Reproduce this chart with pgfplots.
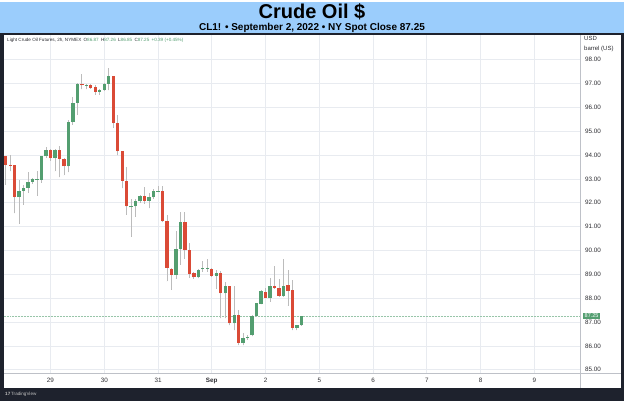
\documentclass[border=0pt]{standalone}
\usepackage{fontspec}
\setmainfont{Liberation Sans}
\usepackage{pgfplots}
\pgfplotsset{compat=1.18}
\usepackage{pgfplotstable}
\definecolor{hdr}{RGB}{155,205,252}
\definecolor{framec}{RGB}{30,34,45}
\definecolor{gridc}{RGB}{232,235,240}
\definecolor{sepc}{RGB}{190,193,200}
\definecolor{upc}{RGB}{83,158,112}
\definecolor{dnc}{RGB}{218,74,54}
\definecolor{wick}{RGB}{188,188,188}
\definecolor{txt}{RGB}{45,45,50}

\pgfplotstableread{
i o h l c
0 93.95 93.97 92.76 93.59
1 93.59 94.02 93.32 93.55
2 93.57 93.57 91.55 92.24
10 94.23 94.27 93.77 93.87
12 94.22 94.40 93.08 93.84
13 93.84 93.88 93.15 93.53
17 96.96 97.38 96.75 96.92
19 96.92 97.00 96.78 96.82
20 96.85 96.92 96.53 96.65
24 97.31 97.31 95.14 95.34
25 95.34 95.69 93.99 94.16
26 94.16 94.18 92.60 92.93
27 92.90 93.49 91.50 91.85
31 92.30 92.65 91.95 92.09
35 92.51 92.69 91.19 91.22
36 91.22 91.47 88.70 89.27
37 89.24 89.25 88.35 88.99
40 91.20 91.61 89.66 90.00
41 90.00 90.32 88.85 89.03
42 89.06 89.09 88.82 88.87
46 89.23 89.27 88.90 88.95
48 89.05 89.13 87.15 88.20
50 88.50 88.52 86.87 86.94
52 87.29 87.52 86.03 86.13
58 88.27 88.43 87.99 88.01
60 88.52 89.36 88.40 88.43
61 88.43 88.80 88.06 88.10
63 88.55 89.17 87.68 88.30
64 88.34 88.76 86.66 86.77
}\down

\pgfplotstableread{
i o h l c
3 92.24 92.97 91.11 92.51
4 92.51 92.75 91.92 92.62
5 92.62 93.28 92.41 92.89
6 92.89 93.05 92.80 92.99
7 92.97 93.32 92.30 93.00
8 92.97 93.98 92.83 93.94
9 93.94 94.33 93.89 94.23
11 93.87 94.24 93.32 94.23
14 93.53 95.45 93.29 95.38
15 95.38 96.44 95.28 96.20
16 96.20 97.03 95.70 96.96
18 96.92 96.99 96.75 96.95
21 96.66 96.78 96.53 96.73
22 96.73 97.03 96.70 96.99
23 96.99 97.66 96.72 97.31
28 91.81 92.17 90.57 91.85
29 91.85 92.17 91.42 92.06
30 92.06 92.34 92.00 92.30
32 92.09 92.41 91.78 92.23
33 92.23 92.58 92.16 92.48
34 92.48 92.69 92.45 92.51
38 88.99 90.80 88.82 90.08
39 90.08 91.61 89.40 91.20
43 88.87 89.24 88.83 89.20
44 89.22 89.55 89.10 89.26
45 89.24 89.64 89.10 89.27
47 88.95 89.18 88.40 89.05
49 88.20 88.68 87.15 88.52
51 86.94 88.52 86.66 87.31
53 86.13 86.55 86.02 86.31
54 86.31 86.45 86.25 86.39
55 86.45 87.31 86.40 87.26
56 87.26 87.80 87.22 87.78
57 87.75 88.33 87.75 88.31
59 88.00 88.83 87.84 88.52
62 88.10 89.64 88.06 88.52
65 86.77 86.87 86.66 86.87
66 86.87 87.26 86.85 87.25
}\up

\pgfplotsset{candle/.style={only marks, mark=*, mark size=0pt, mark options={draw=none, fill=none}}}

\begin{document}
\begin{tikzpicture}[x=1pt,y=1pt]
% header and frame
\fill[hdr] (0,368) rectangle (624,399);
\fill[framec] (0,0) rectangle (624,368);
\fill[white] (4,13) rectangle (621,366);
\node[anchor=base, font=\fontsize{20}{22}\selectfont\bfseries] at (312,382.5) {Crude Oil \$};
\node[anchor=base, font=\fontsize{10}{11}\selectfont\bfseries] at (312,370.5) {CL1! • September 2, 2022 • NY Spot Close 87.25};

\begin{axis}[
  at={(4pt,27pt)}, anchor=south west, scale only axis,
  width=576pt, height=339pt,
  xmin=-0.38, xmax=128.2, ymin=84.834, ymax=99.048,
  axis line style={draw=none}, tick style={draw=none},
  xtick={10,22,34,46,58,70,82,94,106,118},
  xticklabels={29,30,31,\textbf{Sep},2,5,6,7,8,9},
  ytick={85,86,...,98}, yticklabel pos=right,
  grid=major, major grid style={draw=gridc, line width=0.6pt},
  ticklabel style={font=\fontsize{6.3}{7}\selectfont, text=txt, inner sep=0pt},
  xticklabel style={anchor=center, yshift=-7pt},
  yticklabel style={anchor=west, xshift=5pt, /pgf/number format/.cd, fixed, fixed zerofill, precision=2},
  /pgf/number format/assume math mode=true,
  clip=false]
% last price line
\addplot[upc!60, densely dotted, line width=0.5pt] coordinates {(-0.38,87.25) (128.2,87.25)};
% wicks
\addplot[candle, error bars/.cd, y dir=plus, y explicit, error mark=none,
  error bar style={line width=0.8pt, draw=wick}]
  table[x=i, y=l, y error plus expr=\thisrow{h}-\thisrow{l}] {\up};
\addplot[candle, error bars/.cd, y dir=plus, y explicit, error mark=none,
  error bar style={line width=0.8pt, draw=wick}]
  table[x=i, y=l, y error plus expr=\thisrow{h}-\thisrow{l}] {\down};
% bodies
\addplot[candle, error bars/.cd, y dir=plus, y explicit, error mark=none,
  error bar style={line width=3.3pt, draw=upc}]
  table[x=i, y=o, y error plus expr=\thisrow{c}-\thisrow{o}] {\up};
\addplot[candle, error bars/.cd, y dir=plus, y explicit, error mark=none,
  error bar style={line width=3.3pt, draw=dnc}]
  table[x=i, y=c, y error plus expr=\thisrow{o}-\thisrow{c}] {\down};
\node[anchor=west, xshift=2.5pt, fill=upc, text=white, inner xsep=2pt, inner ysep=1.4pt,
  font=\fontsize{5.5}{6}\selectfont] at (axis cs:128.2,87.25) {87.25};
\end{axis}

% separators
\draw[sepc, line width=0.8pt] (580,13) -- (580,366);
\draw[sepc, line width=0.8pt] (4,27) -- (621,27);
% price axis units
\node[anchor=west, inner sep=0pt, text=txt, font=\fontsize{6}{7}\selectfont] at (584,362) {USD};
\node[anchor=west, inner sep=0pt, text=txt, font=\fontsize{6}{7}\selectfont] at (584,352) {barrel (US)};
% legend line
\node[anchor=west, inner sep=0pt, text=txt, font=\fontsize{4.6}{5}\selectfont] at (7,360.5)
  {Light Crude Oil Futures, 2h, NYMEX\enspace O\textcolor{upc}{86.87}\enspace H\textcolor{upc}{87.26}\enspace L\textcolor{upc}{86.85}\enspace C\textcolor{upc}{87.25}\enspace \textcolor{upc}{+0.39 (+0.45\%)}};
% footer
\node[anchor=west, inner sep=0pt, text=white!75!black, font=\fontsize{4.6}{5}\selectfont] at (5,6)
  {{\bfseries 17}\,TradingView};
\end{tikzpicture}
\end{document}
